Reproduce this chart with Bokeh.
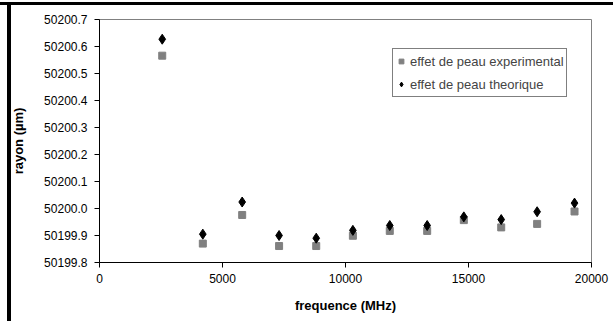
from bokeh.plotting import figure
from bokeh.models import FixedTicker, NumeralTickFormatter, Range1d, Legend, LegendItem
from bokeh.embed import file_html
from bokeh.resources import INLINE

freq = [2550, 4200, 5800, 7300, 8810, 10300, 11800, 13320, 14810, 16330, 17790, 19310]
rayon_exp = [50200.566, 50199.870, 50199.976, 50199.861, 50199.861, 50199.899,
             50199.917, 50199.917, 50199.957, 50199.930, 50199.943, 50199.989]
rayon_theo = [50200.627, 50199.905, 50200.024, 50199.900, 50199.890, 50199.919,
              50199.937, 50199.937, 50199.969, 50199.959, 50199.988, 50200.020]
x_ticks = [0, 5000, 10000, 15000, 20000]
y_ticks = [50199.8, 50199.9, 50200.0, 50200.1, 50200.2, 50200.3, 50200.4, 50200.5, 50200.6, 50200.7]
series_names = ["effet de peau experimental", "effet de peau theorique"]

FONT = "Liberation Sans"

p = figure(width=613, height=321, output_backend="svg", toolbar_location=None,
           x_range=Range1d(0, 20000), y_range=Range1d(50199.8, 50200.7),
           min_border_left=99, min_border_right=22, min_border_top=19, min_border_bottom=59)

# outer black frame on top and left edges, painted as CSS background behind a transparent border area
p.border_fill_alpha = 0
p.styles = {"background-image":
            "linear-gradient(to bottom, white 0px, white 2px, black 2px, black 5px, transparent 5px), "
            "linear-gradient(to right, white 0px, white 7px, black 7px, black 11px, transparent 11px)"}

p.xgrid.visible = False
p.ygrid.visible = False
p.outline_line_color = "#808080"
p.outline_line_width = 1

r1 = p.scatter(freq, rayon_exp, marker="square", size=7, fill_color="#808080", line_color="#808080")
r2 = p.scatter(freq, rayon_theo, marker="diamond", size=10, fill_color="black", line_color="black")

for ax in (p.xaxis[0], p.yaxis[0]):
    ax.axis_line_color = "black"
    ax.major_tick_line_color = "black"
    ax.minor_tick_line_color = None
    ax.major_tick_out = 5
    ax.major_tick_in = 0
    ax.major_label_text_font = FONT
    ax.major_label_text_font_size = "12px"
    ax.major_label_text_color = "black"
    ax.axis_label_text_font = FONT
    ax.axis_label_text_font_style = "bold"
    ax.axis_label_text_font_size = "13px"
    ax.axis_label_text_color = "black"

p.xaxis.ticker = FixedTicker(ticks=x_ticks)
p.yaxis.ticker = FixedTicker(ticks=y_ticks)
p.yaxis.formatter = NumeralTickFormatter(format="0.0")
p.xaxis.axis_label = "frequence (MHz)"
p.yaxis.axis_label = "rayon (µm)"
p.xaxis.major_label_standoff = 6
p.yaxis.major_label_standoff = 7
p.xaxis.axis_label_standoff = 12
p.yaxis.axis_label_standoff = 15

legend = Legend(items=[LegendItem(label=series_names[0], renderers=[r1]),
                       LegendItem(label=series_names[1], renderers=[r2])],
                location=(293, 165), padding=2, spacing=3, margin=0,
                label_text_font=FONT, label_text_font_size="13px",
                glyph_width=12, glyph_height=20, label_height=20, label_standoff=3,
                border_line_color="black", border_line_width=1,
                background_fill_color="white", background_fill_alpha=1.0)
p.add_layout(legend, "center")

open("out.html", "w").write(file_html(p, INLINE))
